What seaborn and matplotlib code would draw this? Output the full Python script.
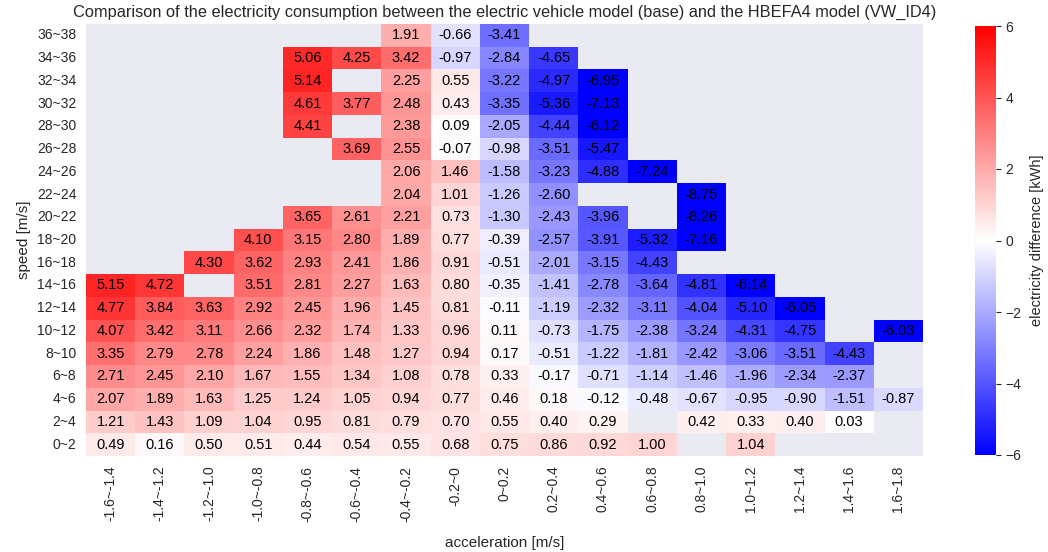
import numpy as np
import pandas as pd
import matplotlib
matplotlib.use("Agg")
import matplotlib.pyplot as plt
import seaborn as sns

nan = np.nan
acc_labels = ["-1.6~-1.4", "-1.4~-1.2", "-1.2~-1.0", "-1.0~-0.8", "-0.8~-0.6", "-0.6~-0.4",
              "-0.4~-0.2", "-0.2~0", "0~0.2", "0.2~0.4", "0.4~0.6", "0.6~0.8",
              "0.8~1.0", "1.0~1.2", "1.2~1.4", "1.4~1.6", "1.6~1.8"]
speed_labels = ["36~38", "34~36", "32~34", "30~32", "28~30", "26~28", "24~26", "22~24",
                "20~22", "18~20", "16~18", "14~16", "12~14", "10~12", "8~10", "6~8",
                "4~6", "2~4", "0~2"]

r36 = [nan, nan, nan, nan, nan, nan, 1.91, -0.66, -3.41, nan, nan, nan, nan, nan, nan, nan, nan]
r34 = [nan, nan, nan, nan, 5.06, 4.25, 3.42, -0.97, -2.84, -4.65, nan, nan, nan, nan, nan, nan, nan]
r32 = [nan, nan, nan, nan, 5.14, nan, 2.25, 0.55, -3.22, -4.97, -6.95, nan, nan, nan, nan, nan, nan]
r30 = [nan, nan, nan, nan, 4.61, 3.77, 2.48, 0.43, -3.35, -5.36, -7.13, nan, nan, nan, nan, nan, nan]
r28 = [nan, nan, nan, nan, 4.41, nan, 2.38, 0.09, -2.05, -4.44, -6.12, nan, nan, nan, nan, nan, nan]
r26 = [nan, nan, nan, nan, nan, 3.69, 2.55, -0.07, -0.98, -3.51, -5.47, nan, nan, nan, nan, nan, nan]
r24 = [nan, nan, nan, nan, nan, nan, 2.06, 1.46, -1.58, -3.23, -4.88, -7.24, nan, nan, nan, nan, nan]
r22 = [nan, nan, nan, nan, nan, nan, 2.04, 1.01, -1.26, -2.60, nan, nan, -8.75, nan, nan, nan, nan]
r20 = [nan, nan, nan, nan, 3.65, 2.61, 2.21, 0.73, -1.30, -2.43, -3.96, nan, -8.26, nan, nan, nan, nan]
r18 = [nan, nan, nan, 4.10, 3.15, 2.80, 1.89, 0.77, -0.39, -2.57, -3.91, -5.32, -7.16, nan, nan, nan, nan]
r16 = [nan, nan, 4.30, 3.62, 2.93, 2.41, 1.86, 0.91, -0.51, -2.01, -3.15, -4.43, nan, nan, nan, nan, nan]
r14 = [5.15, 4.72, nan, 3.51, 2.81, 2.27, 1.63, 0.80, -0.35, -1.41, -2.78, -3.64, -4.81, -6.14, nan, nan, nan]
r12 = [4.77, 3.84, 3.63, 2.92, 2.45, 1.96, 1.45, 0.81, -0.11, -1.19, -2.32, -3.11, -4.04, -5.10, -6.05, nan, nan]
r10 = [4.07, 3.42, 3.11, 2.66, 2.32, 1.74, 1.33, 0.96, 0.11, -0.73, -1.75, -2.38, -3.24, -4.31, -4.75, nan, -6.03]
r8 = [3.35, 2.79, 2.78, 2.24, 1.86, 1.48, 1.27, 0.94, 0.17, -0.51, -1.22, -1.81, -2.42, -3.06, -3.51, -4.43, nan]
r6 = [2.71, 2.45, 2.10, 1.67, 1.55, 1.34, 1.08, 0.78, 0.33, -0.17, -0.71, -1.14, -1.46, -1.96, -2.34, -2.37, nan]
r4 = [2.07, 1.89, 1.63, 1.25, 1.24, 1.05, 0.94, 0.77, 0.46, 0.18, -0.12, -0.48, -0.67, -0.95, -0.90, -1.51, -0.87]
r2 = [1.21, 1.43, 1.09, 1.04, 0.95, 0.81, 0.79, 0.70, 0.55, 0.40, 0.29, nan, 0.42, 0.33, 0.40, 0.03, nan]
r0 = [0.49, 0.16, 0.50, 0.51, 0.44, 0.54, 0.55, 0.68, 0.75, 0.86, 0.92, 1.00, nan, 1.04, nan, nan, nan]

rows = [r36, r34, r32, r30, r28, r26, r24, r22, r20, r18, r16, r14, r12, r10, r8, r6, r4, r2, r0]
df = pd.DataFrame(rows, index=speed_labels, columns=acc_labels)

sns.set_style("darkgrid")
plt.rcParams['font.family'] = ['Liberation Sans', 'DejaVu Sans']

W, H = 1048, 552
fig = plt.figure(figsize=(W / 100, H / 100), dpi=100)
ax = fig.add_axes([86 / W, 1 - 456 / H, (923 - 86) / W, (456 - 24) / H])
cax = fig.add_axes([975 / W, 1 - 455 / H, 21 / W, 429 / H])

sns.heatmap(df, ax=ax, cbar_ax=cax, cmap="bwr", vmin=-6, vmax=6,
            annot=True, fmt=".2f", annot_kws={"color": "black", "fontsize": 10.5},
            cbar_kws={"label": "electricity difference [kWh]"})
ax.grid(False)
cax.grid(False)

ax.set_title("Comparison of the electricity consumption between the electric vehicle model (base) and the HBEFA4 model (VW_ID4)",
             fontsize=11.8, pad=5)
ax.set_xlabel("acceleration [m/s]", fontsize=11, labelpad=10)
ax.set_ylabel("speed [m/s]", fontsize=11)
ax.tick_params(axis="x", labelrotation=90, labelsize=10)
ax.tick_params(axis="y", labelrotation=0, labelsize=10)
cax.tick_params(labelsize=10)
cax.yaxis.label.set_size(10.5)
cax.yaxis.labelpad = 6

fig.savefig("out.png", dpi=100)
